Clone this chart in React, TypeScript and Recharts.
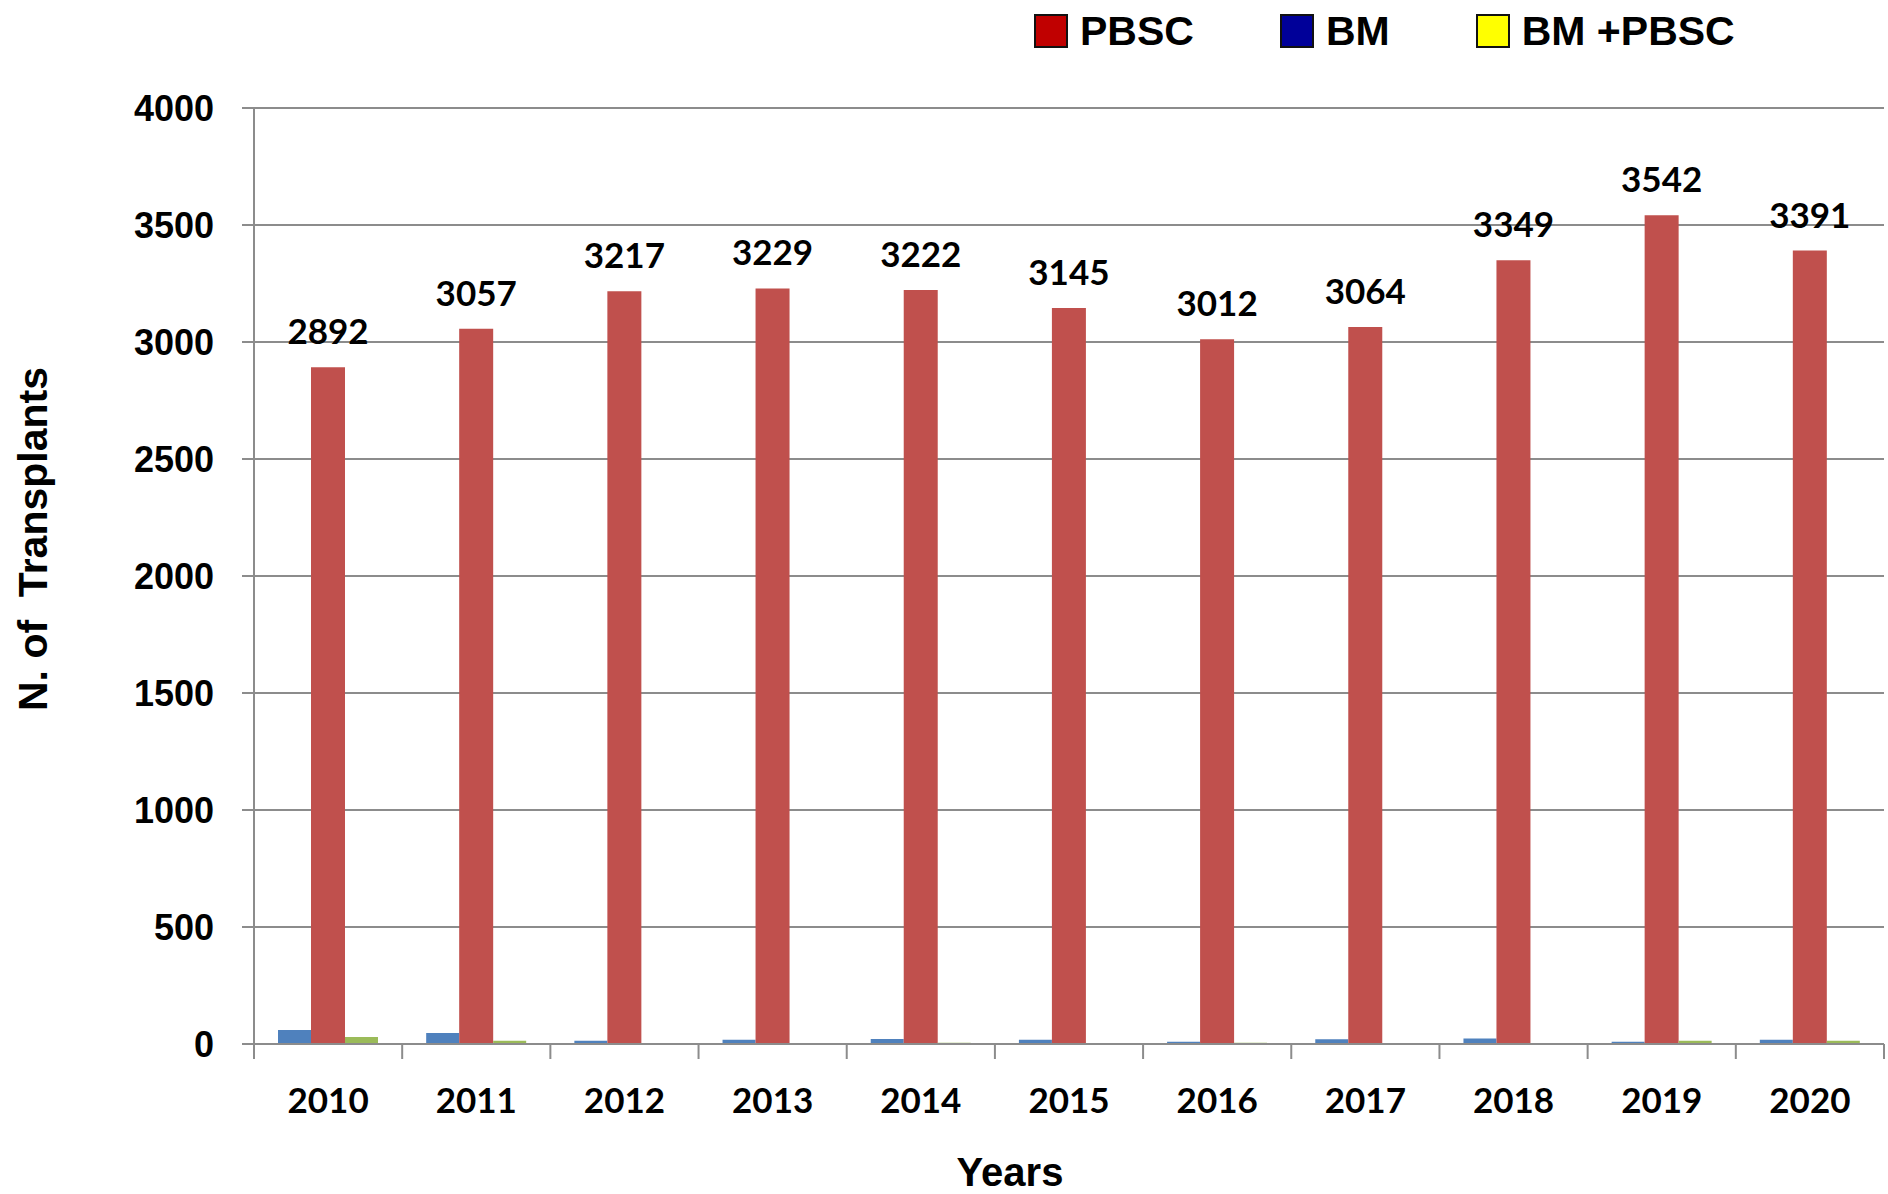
import React from "react";
import {
  BarChart,
  Bar,
  XAxis,
  YAxis,
  CartesianGrid,
  LabelList,
  Label,
} from "recharts";

const YEARS = ["2010", "2011", "2012", "2013", "2014", "2015", "2016", "2017", "2018", "2019", "2020"];
const BM = [60, 47, 14, 18, 21, 18, 10, 20, 24, 10, 18];
const PBSC = [2892, 3057, 3217, 3229, 3222, 3145, 3012, 3064, 3349, 3542, 3391];
const BM_PBSC = [30, 14, 2, 0, 5, 1, 5, 0, 0, 14, 14];
const Y_TICKS = [0, 500, 1000, 1500, 2000, 2500, 3000, 3500, 4000];

const LEGEND_ITEMS = [
  { label: "PBSC", color: "#C00000" },
  { label: "BM", color: "#000099" },
  { label: "BM +PBSC", color: "#FFFF00" },
];

const W = 1888;
const H = 1194;
const Y_AXIS_W = 254;
const RIGHT = 4;
const PLOT_W = W - Y_AXIS_W - RIGHT;
const BAND = PLOT_W / YEARS.length;

const GRID = "#8c8c8c";
const ARIAL = "'Liberation Sans', Arial, sans-serif";
const CALIBRI = "Lato, 'Open Sans', sans-serif";

const data = YEARS.map((year, i) => ({
  year,
  bm: BM[i],
  pbsc: PBSC[i],
  bmPbsc: BM_PBSC[i],
}));

// ticks sit on the category boundaries, labels in the middle
const XTick = (props: any) => {
  const { x, y, payload, index } = props;
  const base = y - 8;
  return (
    <g>
      <line x1={x - BAND / 2} y1={base} x2={x - BAND / 2} y2={base + 15} stroke={GRID} strokeWidth={2} />
      {index === YEARS.length - 1 && (
        <line x1={x + BAND / 2} y1={base} x2={x + BAND / 2} y2={base + 15} stroke={GRID} strokeWidth={2} />
      )}
      <text
        x={x}
        y={base + 55}
        textAnchor="middle"
        dominantBaseline="central"
        fontFamily={CALIBRI}
        fontWeight="bold"
        fontSize={35}
        fill="#000"
      >
        {payload.value}
      </text>
    </g>
  );
};

const ChartLegend = () => (
  <div style={{ position: "absolute", left: 1034, top: 12, display: "flex", alignItems: "center" }}>
    {LEGEND_ITEMS.map((item, i) => (
      <div key={i} style={{ display: "flex", alignItems: "center", marginRight: 86 }}>
        <div
          style={{
            width: 30,
            height: 30,
            background: item.color,
            border: "2px solid #111",
            marginRight: 12,
          }}
        />
        <span style={{ fontFamily: ARIAL, fontWeight: "bold", fontSize: 41, color: "#000", lineHeight: "38px" }}>
          {item.label}
        </span>
      </div>
    ))}
  </div>
);

const App = () => {
  return (
    <div style={{ position: "absolute", left: 0, top: 0, width: W, height: H, background: "#fff" }}>
      <BarChart
        width={W}
        height={H}
        data={data}
        margin={{ top: 108, right: RIGHT, left: 0, bottom: 0 }}
        barCategoryGap={24}
        barGap={0}
      >
        <CartesianGrid vertical={false} stroke={GRID} strokeWidth={2} />
        <XAxis
          dataKey="year"
          height={150}
          axisLine={{ stroke: GRID, strokeWidth: 2 }}
          tickLine={false}
          tick={<XTick />}
          interval={0}
        >
          <Label
            content={() => (
              <text
                x={1010}
                y={1172}
                textAnchor="middle"
                dominantBaseline="central"
                fontFamily={ARIAL}
                fontWeight="bold"
                fontSize={40}
                fill="#000"
              >
                Years
              </text>
            )}
          />
        </XAxis>
        <YAxis
          width={Y_AXIS_W}
          domain={[0, 4000]}
          ticks={Y_TICKS}
          interval={0}
          axisLine={{ stroke: GRID, strokeWidth: 2 }}
          tickLine={{ stroke: GRID, strokeWidth: 2 }}
          tickSize={12}
          tickMargin={28}
          tick={{ fontFamily: ARIAL, fontWeight: "bold", fontSize: 36, fill: "#000" }}
        >
          <Label
            content={() => (
              <text
                x={33}
                y={539}
                transform="rotate(-90 33 539)"
                textAnchor="middle"
                dominantBaseline="central"
                fontFamily={ARIAL}
                fontWeight="bold"
                fontSize={41}
                fill="#000"
              >
                {"N. of\u00A0\u00A0Transplants"}
              </text>
            )}
          />
        </YAxis>
        <Bar dataKey="bm" name="BM" fill="#4F81BD" barSize={33} isAnimationActive={false} />
        <Bar dataKey="pbsc" name="PBSC" fill="#C0504D" barSize={34} isAnimationActive={false}>
          <LabelList
            dataKey="pbsc"
            position="top"
            offset={23}
            fontFamily={CALIBRI}
            fontWeight="bold"
            fontSize={35}
            fill="#000"
          />
        </Bar>
        <Bar dataKey="bmPbsc" name="BM +PBSC" fill="#9BBB59" barSize={33} isAnimationActive={false} />
      </BarChart>
      <ChartLegend />
    </div>
  );
};

export default App;
